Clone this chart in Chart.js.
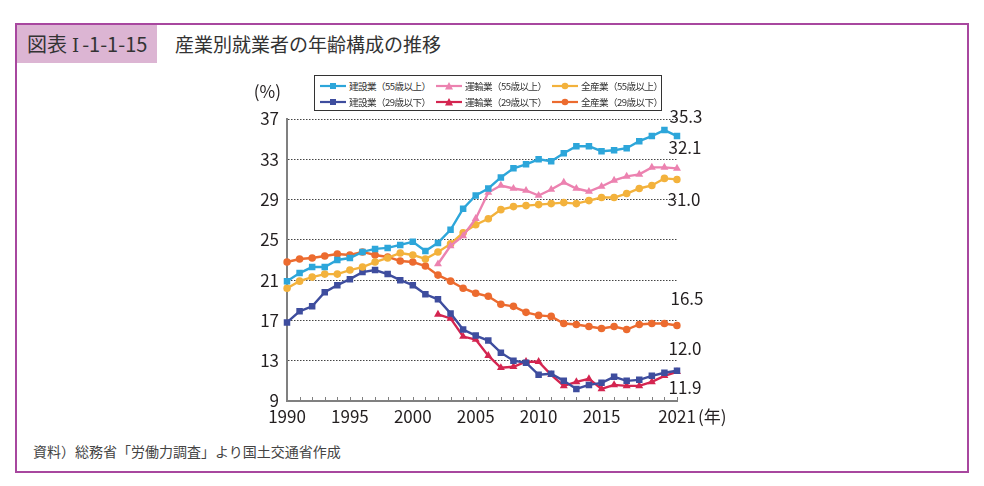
<!DOCTYPE html>
<html lang="ja">
<head>
<meta charset="utf-8">
<script src="https://cdn.jsdelivr.net/npm/chart.js@4.4.0/dist/chart.umd.min.js"></script>
<style>
  html, body { margin: 0; padding: 0; background: #fff; }
  body { width: 984px; height: 486px; position: relative; overflow: hidden;
         font-family: "Noto Sans CJK JP", "Noto Sans", sans-serif; color: #333; }
  #frame { position: absolute; left: 15px; top: 23px; width: 950px; height: 446px;
           border: 2px solid #a8479f; }
  #tag { position: absolute; left: 17px; top: 25px; width: 140px; height: 38px;
         background: #dcb5d3; font-size: 20px; line-height: 38px; padding-left: 10px;
         box-sizing: border-box; color: #333; white-space: nowrap; }
  #tag .rn { font-family: "DejaVu Serif", serif; font-size: 18px; margin: 0 3px 0 5px; }
  #title { position: absolute; left: 175px; top: 25px; font-size: 19px; line-height: 38px; color: #333; }
  #source { position: absolute; left: 33px; top: 441px; font-size: 14px; color: #444; }
  #chartBox { position: absolute; left: 220px; top: 60px; width: 540px; height: 380px; }
  #legend { position: absolute; left: 314px; top: 75px; width: 348px; height: 36px;
            border: 1px solid #333; box-sizing: border-box; background: #fff;
            display: grid; grid-template-columns: 116px 116px 116px; padding: 2px 0 0 5px;
            font-size: 9.6px; letter-spacing: -0.6px; line-height: 15px; color: #333; }
  #legend div { display: flex; align-items: center; white-space: nowrap; }
  #legend svg { margin-right: 3px; }
</style>
</head>
<body>
<div id="frame"></div>
<div id="tag">図表<span class="rn">I</span>-1-1-15</div>
<div id="title">産業別就業者の年齢構成の推移</div>
<div id="chartBox"><canvas id="ageChart" width="540" height="380"></canvas></div>
<div id="legend"></div>
<div id="source">資料）総務省「労働力調査」より国土交通省作成</div>
<script>
var years = [];
for (var y = 1990; y <= 2021; y++) { years.push(y); }

var seriesNames = ["建設業（55歳以上）", "運輸業（55歳以上）", "全産業（55歳以上）",
                   "建設業（29歳以下）", "運輸業（29歳以下）", "全産業（29歳以下）"];

var con55 = [20.9, 21.7, 22.3, 22.3, 23.0, 23.2, 23.8, 24.1, 24.2, 24.5, 24.8, 23.9, 24.7, 26.0, 28.1, 29.4,
             30.1, 31.2, 32.1, 32.5, 33.0, 32.8, 33.6, 34.3, 34.3, 33.8, 33.9, 34.1, 34.8, 35.3, 35.9, 35.3];
var tr55 = [null, null, null, null, null, null, null, null, null, null, null, null, 22.6, 24.4, 25.4, 27.1,
            29.7, 30.4, 30.1, 29.9, 29.4, 30.0, 30.7, 30.1, 29.8, 30.3, 30.9, 31.3, 31.5, 32.2, 32.2, 32.1];
var all55 = [20.2, 20.9, 21.3, 21.6, 21.6, 22.0, 22.3, 22.8, 23.2, 23.7, 23.5, 23.1, 23.8, 24.6, 25.7, 26.5,
             27.1, 28.0, 28.3, 28.4, 28.5, 28.6, 28.7, 28.6, 28.9, 29.2, 29.2, 29.6, 30.1, 30.4, 31.1, 31.0];
var con29 = [16.8, 17.9, 18.4, 19.8, 20.5, 21.1, 21.8, 22.0, 21.6, 21.0, 20.5, 19.6, 19.1, 17.7, 16.1, 15.5,
             15.0, 13.8, 13.0, 12.8, 11.6, 11.7, 11.0, 10.2, 10.6, 10.8, 11.4, 11.0, 11.1, 11.5, 11.8, 12.0];
var tr29 = [null, null, null, null, null, null, null, null, null, null, null, null, 17.6, 17.2, 15.4, 15.1,
            13.5, 12.3, 12.4, 12.9, 12.9, 11.6, 10.5, 10.9, 11.2, 10.2, 10.6, 10.5, 10.5, 10.9, 11.5, 11.9];
var all29 = [22.8, 23.1, 23.2, 23.4, 23.6, 23.5, 23.8, 23.5, 23.3, 22.9, 22.8, 22.4, 21.5, 20.9, 20.2, 19.7,
             19.4, 18.6, 18.4, 17.8, 17.5, 17.4, 16.7, 16.6, 16.4, 16.2, 16.4, 16.1, 16.6, 16.7, 16.7, 16.5];

var shownYears = [1990, 1995, 2000, 2005, 2010, 2015, 2021];

var colors = ["#2da6da", "#ec82b0", "#f3b23c", "#3e4d9e", "#d42550", "#ec6b2f"];
var shapes = ["rect", "triangle", "circle", "rect", "triangle", "circle"];
var radii = [4.6, 4.6, 3.8, 4.6, 4.6, 3.8];
// label offset from the last point, in px (same order as the series)
var endOffsets = [[9, -20], [8, -21], [7, 20], [8, -22], [8, 16], [10, -27]];
var allSeries = [con55, tr55, all55, con29, tr29, all29];

var datasets = [];
for (var i = 0; i < allSeries.length; i++) {
  datasets.push({
    label: seriesNames[i],
    data: allSeries[i],
    borderColor: colors[i],
    backgroundColor: colors[i],
    borderWidth: 2.4,
    pointStyle: shapes[i],
    pointRadius: radii[i],
    pointBorderWidth: 0,
    pointHoverRadius: radii[i],
    tension: 0,
    spanGaps: false,
    endOffset: endOffsets[i]
  });
}

var extras = {
  id: 'extras',
  afterDatasetsDraw: function(chart) {
    var ctx = chart.ctx, x = chart.scales.x, yS = chart.scales.y, area = chart.chartArea;
    ctx.save();
    // year ticks pointing into the plot
    ctx.strokeStyle = '#808080';
    ctx.lineWidth = 1;
    for (var k = 0; k < years.length; k++) {
      var px = Math.round(x.getPixelForValue(k)) + 0.5;
      ctx.beginPath();
      ctx.moveTo(px, area.bottom);
      ctx.lineTo(px, area.bottom - 4);
      ctx.stroke();
    }
    // end value labels
    ctx.fillStyle = '#231f20';
    ctx.font = '17px "Noto Sans CJK JP", "Noto Sans", sans-serif';
    ctx.textAlign = 'center';
    ctx.textBaseline = 'middle';
    chart.data.datasets.forEach(function(ds, i) {
      var last = ds.data.length - 1;
      var v = ds.data[last];
      var off = ds.endOffset;
      ctx.fillText(v.toFixed(1), x.getPixelForValue(last) + off[0], yS.getPixelForValue(v) + off[1]);
    });
    // unit labels
    ctx.textAlign = 'right';
    ctx.fillText('(%)', area.left - 6, area.top - 27);
    ctx.textAlign = 'left';
    ctx.fillText('(年)', area.right + 21, area.bottom + 16);
    ctx.restore();
  }
};

var chart = new Chart(document.getElementById('ageChart'), {
  type: 'line',
  data: { labels: years, datasets: datasets },
  plugins: [extras],
  options: {
    responsive: false,
    animation: false,
    layout: { padding: { top: 59, right: 83, left: 0, bottom: 0 } },
    plugins: { legend: { display: false }, tooltip: { enabled: false } },
    scales: {
      x: {
        type: 'category',
        offset: false,
        afterFit: function(s) { s.height = 39; },
        grid: { display: false, drawTicks: false },
        border: { display: true, color: '#808080', width: 2 },
        ticks: {
          autoSkip: false, maxRotation: 0, padding: 5, color: '#231f20',
          font: { size: 17, family: '"Noto Sans CJK JP", "Noto Sans", sans-serif' },
          callback: function(val, idx) {
            return shownYears.indexOf(years[idx]) >= 0 ? String(years[idx]) : '';
          }
        }
      },
      y: {
        min: 9, max: 37,
        afterFit: function(s) { s.width = 67; },
        grid: { color: '#444', lineWidth: 1, drawTicks: false },
        border: { display: true, color: '#808080', width: 2, dash: [1.5, 1.5] },
        ticks: {
          stepSize: 4, padding: 8, color: '#231f20',
          font: { size: 17, family: '"Noto Sans CJK JP", "Noto Sans", sans-serif' }
        }
      }
    }
  }
});

// legend drawn from chart datasets
var legendEl = document.getElementById('legend');
chart.data.datasets.forEach(function(ds) {
  var item = document.createElement('div');
  var mark;
  if (ds.pointStyle === 'rect') {
    mark = '<rect x="10" y="2" width="6" height="6" fill="' + ds.borderColor + '"/>';
  } else if (ds.pointStyle === 'triangle') {
    mark = '<polygon points="13,1 17,8.5 9,8.5" fill="' + ds.borderColor + '"/>';
  } else {
    mark = '<circle cx="13" cy="5" r="3.3" fill="' + ds.borderColor + '"/>';
  }
  item.innerHTML = '<svg width="26" height="10"><line x1="0" y1="5" x2="26" y2="5" stroke="' +
    ds.borderColor + '" stroke-width="2.2"/>' + mark + '</svg><span>' + ds.label + '</span>';
  legendEl.appendChild(item);
});
</script>
</body>
</html>
